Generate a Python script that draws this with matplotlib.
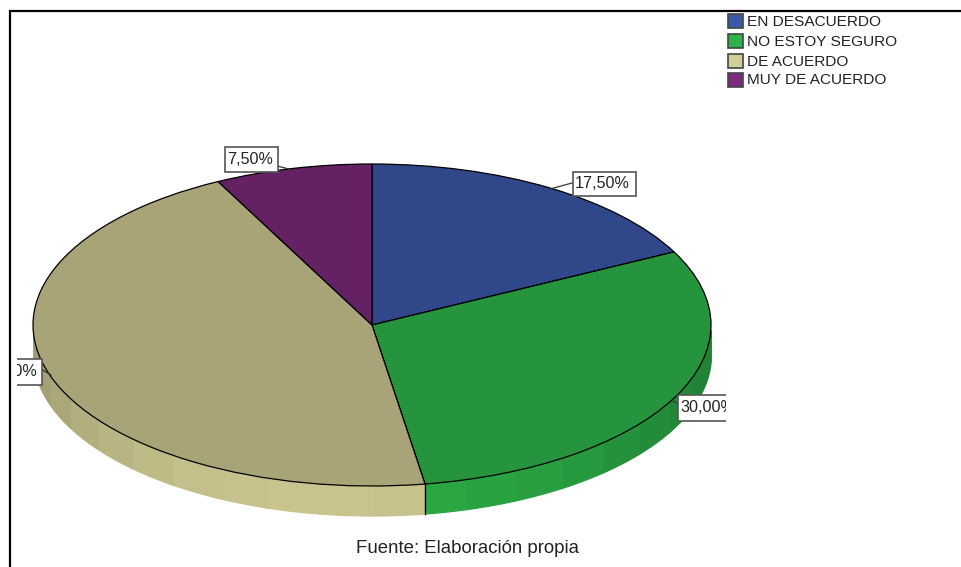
import numpy as np
import matplotlib
matplotlib.use("Agg")
import matplotlib.pyplot as plt
from matplotlib.patches import Rectangle
from matplotlib.colors import to_rgb

plt.rcParams['font.family'] = ['Liberation Sans', 'DejaVu Sans']

# ---- data ----
categories = ["EN DESACUERDO", "NO ESTOY SEGURO", "DE ACUERDO", "MUY DE ACUERDO"]
values = [17.5, 30.0, 45.0, 7.5]
top_colors = ["#30478a", "#26933d", "#a9a478", "#642163"]
side_colors = ["#3c58a8", "#2bab45", "#c9c48e", "#7b2a7f"]
legend_colors = ["#3c58a8", "#2db34a", "#d3ce97", "#7b2a7f"]
caption = "Fuente: Elaboración propia"

W, H = 961, 567
fig = plt.figure(figsize=(W / 100, H / 100), dpi=100, facecolor="white")

# overlay axes in pixel coordinates for frame, legend, labels
ov = fig.add_axes([0, 0, 1, 1], zorder=5)
ov.set_xlim(0, W)
ov.set_ylim(H, 0)
ov.axis("off")
ov.patch.set_alpha(0)

# pie axes: stretched so the circle becomes the tilted ellipse
cx, cy, rx, ry = 372, 325, 339, 161
ax = fig.add_axes([(cx - rx) / W, 1 - (cy + ry) / H, 2 * rx / W, 2 * ry / H], zorder=2)
ax.set_xlim(-1, 1)
ax.set_ylim(-1, 1)
ax.axis("off")

depth = 29.5 / ry
bounds = np.cumsum([0] + values) * 3.6      # clockwise from 12 o'clock, degrees

# side wall, drawn as shaded facets
step = 9.0
for i in range(len(values)):
    a0, a1 = max(bounds[i], 92.0), min(bounds[i + 1], 268.0)
    if a1 <= a0:
        continue
    base = np.array(to_rgb(side_colors[i]))
    edges = np.append(np.arange(a0, a1, step), a1)
    for s, e in zip(edges[:-1], edges[1:]):
        t = np.radians(np.linspace(s, e, 12))
        x, y = np.sin(t), np.cos(t)
        mid = (s + e) / 2
        # brightest toward the front of the disc, darker at the far sides
        shade = 0.76 + 0.24 * np.clip(np.cos(np.radians(mid - 190)), 0, 1) ** 1.5
        ax.fill_between(x, y, y - depth, facecolor=base * shade, edgecolor=base * shade,
                        lw=0.9, clip_on=False, zorder=1)

# slice boundary visible on the wall
for b in bounds[1:-1]:
    if 90 < b < 270:
        t = np.radians(b)
        ax.plot([np.sin(t)] * 2, [np.cos(t), np.cos(t) - depth], color="black", lw=1.0,
                clip_on=False, zorder=2)

# top face
ax.pie(values, colors=top_colors, startangle=90, counterclock=False, radius=1,
       wedgeprops=dict(edgecolor="black", linewidth=0.9), frame=False,
       normalize=True)
ax.set_aspect("auto")
ax.set_xlim(-1, 1)
ax.set_ylim(-1, 1)
for p in ax.patches:
    p.set_clip_on(False)
    p.set_zorder(3)

# frame
ov.plot([9.5, 9.5, W], [H, 10.5, 10.5], color="black", lw=1.6, solid_joinstyle="miter")

# legend
leg_y = [21, 41, 61, 80]
for name, col, yy in zip(categories, legend_colors, leg_y):
    ov.add_patch(Rectangle((728, yy - 7), 15, 14, fc=col, ec="#444444", lw=1.2))
    ov.text(747, yy + 0.5, name, fontsize=11.1, color="#222222", va="center", ha="left")

# value labels: value index, box x0, y0, x1, y1, text x, leader, clip window
label_specs = [
    (0, 572.5, 171.5, 635.5, 195.5, 575, [(572, 183), (550, 189)], None),
    (1, 677.5, 394.5, 740, 420.5, 680, [(677, 403), (673, 401)], 726),
    (2, -25, 358.5, 41.5, 384.5, -17, [(41, 369), (51, 375)], 17),
    (3, 224.5, 146.5, 277.5, 171.5, 227, [(277, 166), (293, 170)], None),
]
for idx, x0, y0, x1, y1, tx, lead, clip in label_specs:
    txt = f"{values[idx]:.2f}".replace(".", ",") + "%"
    (lx0, ly0), (lx1, ly1) = lead
    ov.plot([lx0, lx1], [ly0, ly1], color="#333333", lw=0.9, zorder=6)
    box = Rectangle((x0, y0), x1 - x0, y1 - y0, fc="white", ec="#555555", lw=1.2, zorder=7)
    t = ov.text(tx, (y0 + y1) / 2 + 0.5, txt, fontsize=11.6, color="#222222",
                va="center", ha="left", zorder=8)
    ov.add_patch(box)
    if clip is not None:
        if idx == 2:
            win = Rectangle((clip, 340), 60, 60, transform=ov.transData)
        else:
            win = Rectangle((clip - 60, 380), 60, 60, transform=ov.transData)
        box.set_clip_path(win)
        t.set_clip_on(True)
        t.set_clip_path(win)

ov.text(467.5, 548.5, caption, fontsize=13.4, color="#222222", ha="center", va="center")

fig.savefig("out.png", dpi=100, facecolor="white")
